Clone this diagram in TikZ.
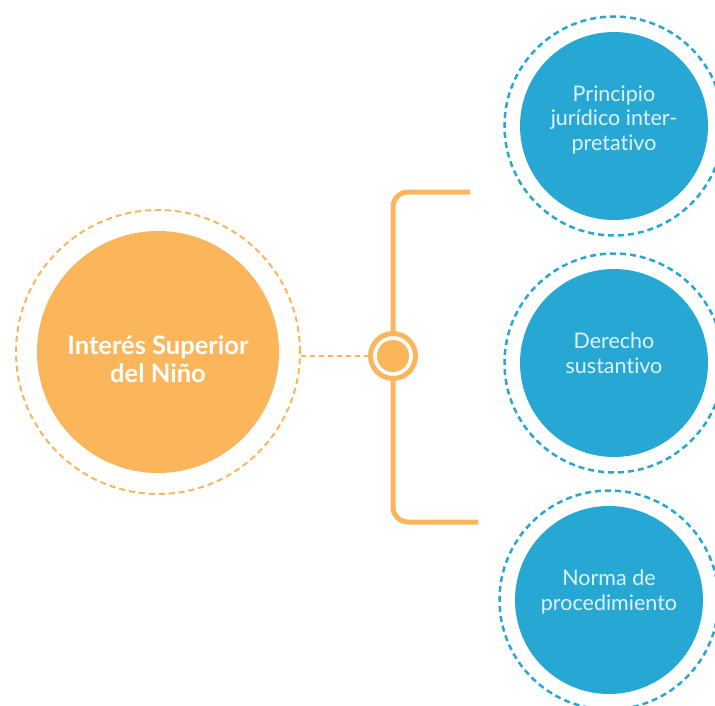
\documentclass[tikz,border=0pt]{standalone}
\usepackage{fontspec}
\setmainfont{Lato}[Ligatures = NoCommon]
\usepackage{tikz}
\usetikzlibrary{calc, positioning}

\definecolor{naranja}{HTML}{FBB65B}
\definecolor{azul}{HTML}{27A8D4}
\definecolor{azulclaro}{HTML}{DFF2F9}

\tikzset{
	disco/.style = {circle, fill = #1, inner sep = 0pt},
	anillo/.style = {circle, draw = #1, dash pattern = on 6pt off 4pt, line width = 2pt, inner sep = 0pt},
	rama/.style = {draw = naranja, line width = 5pt, rounded corners = 15pt},
	textoazul/.style = {text = azulclaro, align = center, font = \fontsize{21.5}{24.5}\selectfont},
}

\begin{document}
\begin{tikzpicture}[x = 1pt, y = -1pt]
		\useasboundingbox (0,0) rectangle (715,706);

		% nodo central
		\node [anillo = naranja, minimum size = 284pt] (isnanillo) at (158,352) {};
		\node [disco = naranja, minimum size = 242pt] (isn) at (158,352) {};
		\node [text = white, align = center, font = \bfseries\fontsize{25.5}{28}\selectfont] (isntexto) at ([yshift = -7pt] isn.center) {Interés Superior\\del Niño};

		% eje
		\node [circle, draw = naranja, line width = 5pt, fill = white, minimum size = 45pt, inner sep = 0pt] (eje) at (393,356) {};
		\fill [naranja] (eje.center) circle (16pt);

		\draw [naranja, line width = 2pt, dash pattern = on 5pt off 4pt] (isnanillo.east |- eje) -- (eje.west);

		\coordinate (ramaA) at (470,192);
		\coordinate (ramaC) at (478,522);
		\draw [rama] (ramaA) -| (eje.north);
		\draw [rama] (ramaC) -| (eje.south);

		% conceptos
		\foreach \n/\x/\y/\s/\t in {pji/614/126/6/{Principio\\jurídico inter-\\pretativo}, ds/614/363/10/{Derecho\\sustantivo}, np/609/600/8/{Norma de\\procedimiento}}
		{
			\node [anillo = azul, line width = 2.5pt, minimum size = 219pt] (\n anillo) at (\x,\y) {};
			\node [disco = azul, minimum size = 188pt] (\n) at (\x,\y) {};
			\node [textoazul] (\n texto) at ([yshift = \s pt] \n.center) {\t};
		}
	\end{tikzpicture}
\end{document}
